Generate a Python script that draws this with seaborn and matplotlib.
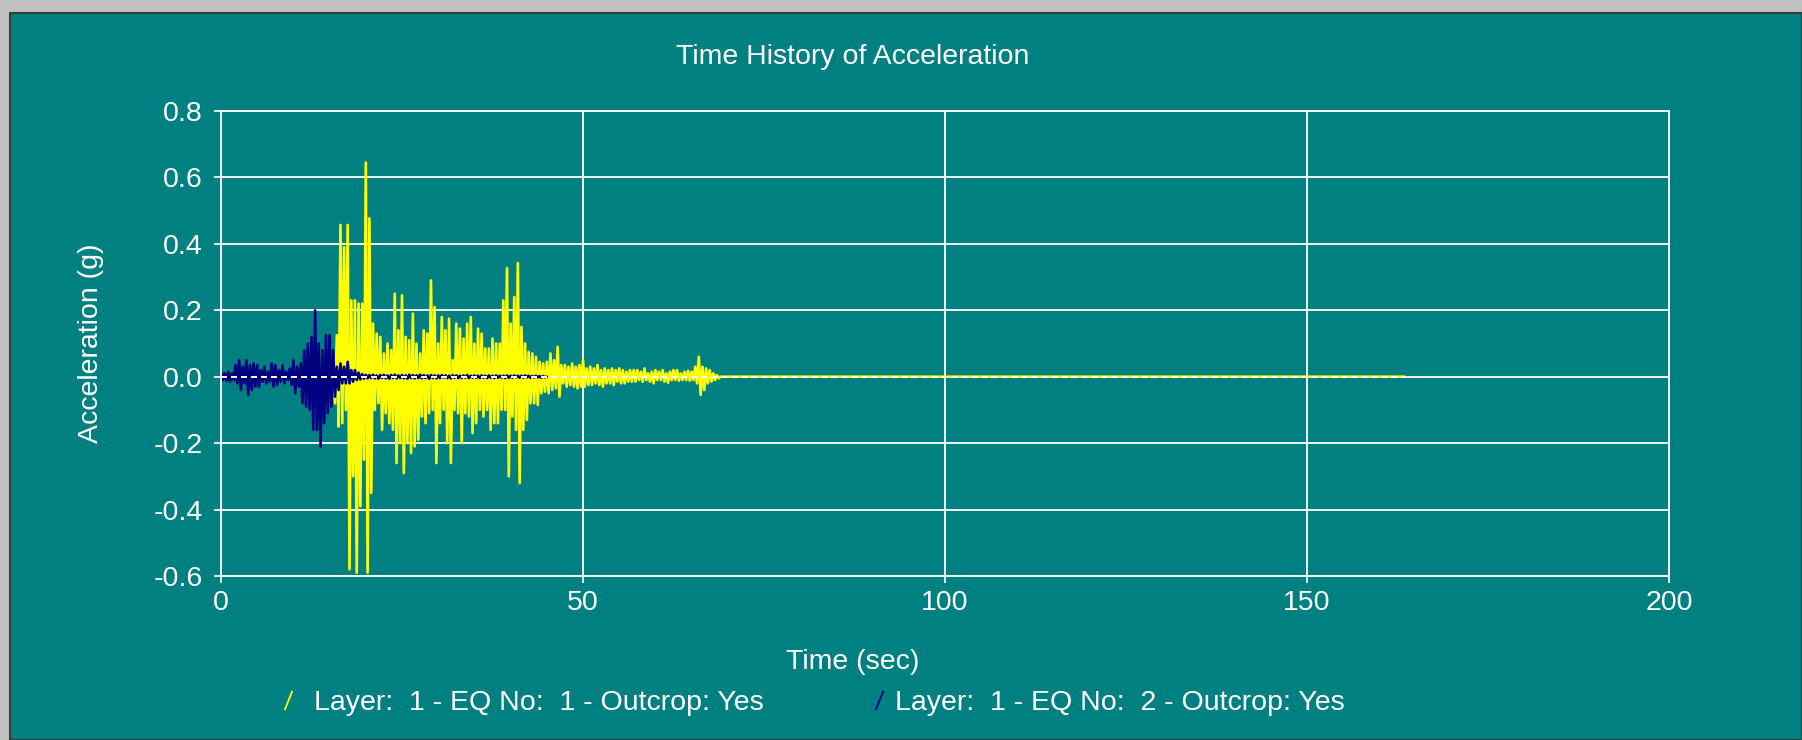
import numpy as np
import pandas as pd
import matplotlib
matplotlib.use("Agg")
import matplotlib.pyplot as plt
import seaborn as sns
from matplotlib.lines import Line2D
from matplotlib.path import Path
from matplotlib.patches import Rectangle

# ---- values (acceleration in g) ----
# every window of 0.5 s gives one peak up and one peak down
window = 0.5

eq1_start = 15.5
eq1_peak_up = [
    0.06, 0.125, 0.457, 0.39, 0.457, 0.23, 0.23, 0.22, 0.22, 0.645,
    0.477, 0.16, 0.13, 0.12, 0.07, 0.10, 0.08, 0.25, 0.14, 0.245,
    0.12, 0.11, 0.19, 0.10, 0.07, 0.14, 0.13, 0.29, 0.21, 0.10,
    0.18, 0.14, 0.175, 0.05, 0.16, 0.145, 0.115, 0.16, 0.18, 0.10,
    0.145, 0.13, 0.085, 0.085, 0.115, 0.10, 0.10, 0.23, 0.327, 0.16,
    0.24, 0.342, 0.15, 0.10, 0.075, 0.07, 0.06, 0.045, 0.04, 0.045,
    0.07, 0.05, 0.09, 0.035, 0.035, 0.03, 0.04, 0.03, 0.035, 0.05,
    0.025, 0.03, 0.025, 0.035, 0.02, 0.025, 0.02, 0.025, 0.02, 0.025,
    0.02, 0.015, 0.02, 0.02, 0.02, 0.015, 0.025, 0.01, 0.015, 0.02,
    0.015, 0.02, 0.01, 0.015, 0.02, 0.02, 0.01, 0.015, 0.018, 0.015,
    0.03, 0.06, 0.03, 0.025, 0.02, 0.01, 0.005,
]
eq1_peak_down = [
    -0.08, -0.15, -0.14, -0.10, -0.58, -0.30, -0.59, -0.39, -0.25, -0.59,
    -0.35, -0.10, -0.08, -0.16, -0.11, -0.14, -0.16, -0.26, -0.20, -0.29,
    -0.20, -0.23, -0.21, -0.19, -0.12, -0.14, -0.11, -0.10, -0.26, -0.14,
    -0.10, -0.20, -0.26, -0.10, -0.11, -0.20, -0.11, -0.12, -0.17, -0.14,
    -0.10, -0.12, -0.10, -0.16, -0.14, -0.14, -0.10, -0.10, -0.30, -0.12,
    -0.16, -0.32, -0.16, -0.13, -0.08, -0.08, -0.085, -0.05, -0.045, -0.05,
    -0.04, -0.035, -0.06, -0.02, -0.03, -0.025, -0.03, -0.035, -0.03, -0.03,
    -0.025, -0.025, -0.02, -0.025, -0.03, -0.02, -0.02, -0.025, -0.015, -0.02,
    -0.02, -0.015, -0.015, -0.015, -0.01, -0.015, -0.01, -0.015, -0.02, -0.01,
    -0.01, -0.015, -0.018, -0.01, -0.01, -0.012, -0.01, -0.01, -0.012, -0.01,
    -0.02, -0.055, -0.04, -0.02, -0.015, -0.01, -0.005,
]
eq1_end = 163.5  # record sits at zero up to here

eq2_start = 0.0
eq2_peak_up = [
    0.015, 0.01, 0.015, 0.01, 0.035, 0.05, 0.03, 0.05, 0.035, 0.04,
    0.035, 0.02, 0.03, 0.015, 0.04, 0.035, 0.02, 0.035, 0.015, 0.025,
    0.05, 0.03, 0.04, 0.08, 0.10, 0.12, 0.20, 0.10, 0.08, 0.125,
    0.125, 0.08, 0.03, 0.04, 0.03, 0.045, 0.02, 0.02, 0.012, 0.008,
    0.006, 0.005, 0.006, 0.004, 0.005, 0.006, 0.004, 0.005, 0.006, 0.004,
    0.005, 0.004, 0.006, 0.005, 0.004, 0.006, 0.005, 0.004, 0.005, 0.004,
    0.004, 0.005, 0.004, 0.003, 0.005, 0.004, 0.003, 0.004, 0.005, 0.003,
    0.004, 0.003, 0.004, 0.003, 0.004, 0.003, 0.004, 0.003, 0.003, 0.004,
    0.003, 0.004, 0.003, 0.003, 0.004, 0.003, 0.002, 0.003, 0.002, 0.002,
]
eq2_peak_down = [
    -0.01, -0.012, -0.015, -0.01, -0.02, -0.04, -0.02, -0.055, -0.04, -0.03,
    -0.03, -0.015, -0.02, -0.015, -0.03, -0.025, -0.015, -0.02, -0.01, -0.025,
    -0.05, -0.03, -0.08, -0.09, -0.10, -0.16, -0.16, -0.21, -0.14, -0.11,
    -0.09, -0.06, -0.04, -0.02, -0.02, -0.02, -0.015, -0.01, -0.008, -0.006,
    -0.005, -0.004, -0.005, -0.006, -0.004, -0.005, -0.006, -0.004, -0.005, -0.004,
    -0.005, -0.006, -0.004, -0.005, -0.004, -0.005, -0.004, -0.006, -0.004, -0.005,
    -0.004, -0.003, -0.004, -0.005, -0.003, -0.004, -0.004, -0.003, -0.004, -0.003,
    -0.003, -0.004, -0.003, -0.004, -0.003, -0.004, -0.003, -0.003, -0.004, -0.003,
    -0.003, -0.002, -0.003, -0.003, -0.002, -0.003, -0.002, -0.002, -0.003, -0.002,
]
eq2_end = 45.0

series_labels = ["Layer:  1 - EQ No:  1 - Outcrop: Yes",
                 "Layer:  1 - EQ No:  2 - Outcrop: Yes"]
series_colors = ["#ffff00", "#000080"]

x_ticks = [0, 50, 100, 150, 200]
y_ticks = [-0.6, -0.4, -0.2, 0.0, 0.2, 0.4, 0.6, 0.8]

TEAL = "#008080"
GREY = "#c0c0c0"


def zigzag(start, up, down, end):
    t = start + np.arange(len(up)) * window
    times = np.column_stack([t, t + window / 2]).ravel()
    vals = np.column_stack([up, down]).ravel()
    last = t[-1] + window
    times = np.append(times, [last, end])
    vals = np.append(vals, [0.0, 0.0])
    return times, vals


t1, a1 = zigzag(eq1_start, eq1_peak_up, eq1_peak_down, eq1_end)
t2, a2 = zigzag(eq2_start, eq2_peak_up, eq2_peak_down, eq2_end)
df = pd.concat([
    pd.DataFrame({"time": t1, "acc": a1, "series": series_labels[0]}),
    pd.DataFrame({"time": t2, "acc": a2, "series": series_labels[1]}),
], ignore_index=True)

sns.set_theme(style="ticks")
plt.rcParams["font.family"] = ["Liberation Sans", "DejaVu Sans"]
plt.rcParams["axes.unicode_minus"] = False
plt.rcParams["lines.scale_dashes"] = False

FS = 20.5
fig = plt.figure(figsize=(18.02, 7.4), dpi=100, facecolor=GREY)
W, H = 1802, 740
fig.patches.append(Rectangle((10 / W, 0), 1 - 10 / W, 1 - 13 / H, transform=fig.transFigure,
                             facecolor=TEAL, edgecolor="#3a3a3a", lw=1.5, zorder=-10))

ax = fig.add_axes([221 / W, 1 - 576 / H, 1448 / W, 465 / H])
ax.set_zorder(2)
ax.set_facecolor(TEAL)
ax.set_axisbelow(True)

sns.lineplot(data=df, x="time", y="acc", hue="series", hue_order=series_labels,
             palette=dict(zip(series_labels, series_colors)), estimator=None,
             sort=False, lw=1.9, legend=False, ax=ax)

# the zero line shows through the traces as a white dash
ax.hlines(0, 0, eq1_end, colors="white", lw=1.4, linestyles=[(0, (4.3, 2.9))], zorder=5)

ax.set_xlim(0, 200)
ax.set_ylim(-0.6, 0.8)
ax.set_xticks(x_ticks)
ax.set_yticks(y_ticks)
ax.set_xticklabels([str(v) for v in x_ticks])
ax.set_yticklabels([f"{v:.1f}" for v in y_ticks])
ax.grid(True, color="white", lw=1.3)
for s in ax.spines.values():
    s.set_color("white")
    s.set_linewidth(1.3)
ax.tick_params(colors="white", labelcolor="white", labelsize=FS, length=5, width=1.2, pad=5)
ax.tick_params(axis="y", pad=8)

ax.set_title("Time History of Acceleration", color="white", fontsize=FS,
             x=0.436, y=1 + (111 - 57) / 465, va="center", pad=0)
ax.set_xlabel("Time (sec)", color="white", fontsize=FS, va="center")
ax.xaxis.set_label_coords(0.436, -(662 - 576) / 465)
ax.set_ylabel("Acceleration (g)", color="white", fontsize=FS, va="center")
ax.yaxis.set_label_coords((91 - 221) / 1448, 0.5)

slash = Path([(-0.4, -1.0), (0.4, 1.0)], [Path.MOVETO, Path.LINETO])
for label, color, left, gap in zip(series_labels, series_colors, [277, 868], [0.5, 0.16]):
    h = Line2D([], [], linestyle="none", marker=slash, markersize=14,
               markeredgecolor=color, markerfacecolor="none", markeredgewidth=1.3)
    fig.legend(handles=[h], labels=[label], loc="center left",
               bbox_to_anchor=(left / W, 1 - 703 / H), frameon=False, fontsize=FS,
               labelcolor="white", handlelength=0.8, handletextpad=gap,
               borderpad=0, borderaxespad=0)

fig.savefig("out.png", dpi=100, facecolor=fig.get_facecolor())
